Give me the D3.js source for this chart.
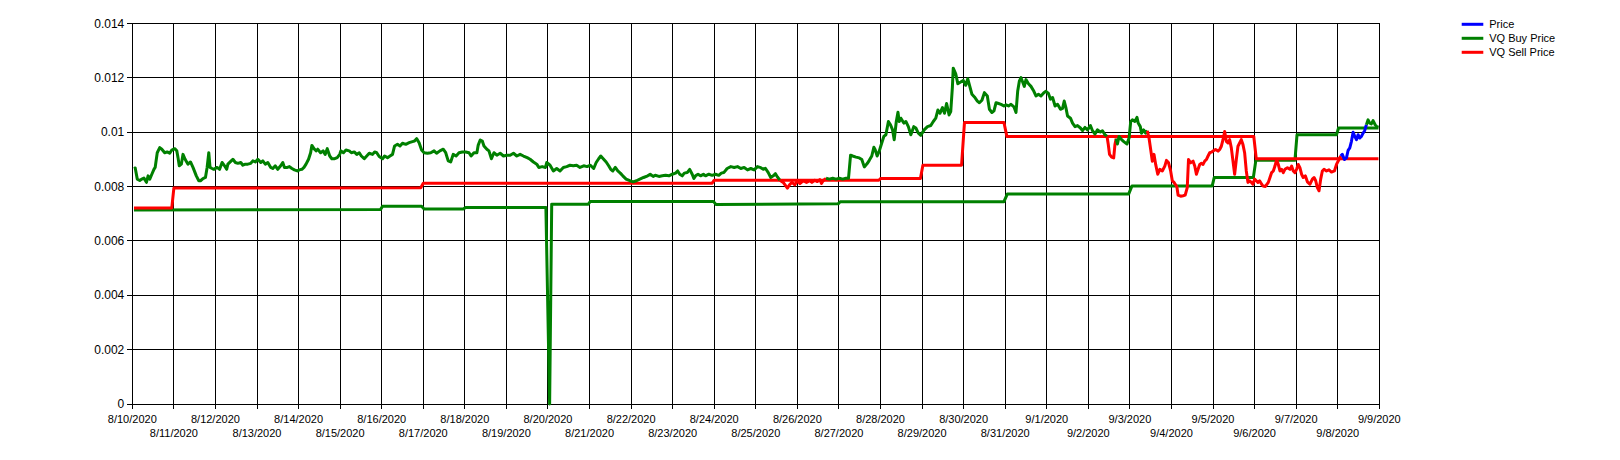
<!DOCTYPE html>
<html>
<head>
<meta charset="utf-8">
<script src="https://cdn.jsdelivr.net/npm/d3@7/dist/d3.min.js"></script>
<style>
  html, body { margin: 0; padding: 0; background: #fff; }
  svg { display: block; }
  text { font-family: "Liberation Sans", Arial, sans-serif; fill: #000; }
</style>
</head>
<body>
<svg id="chart" width="1620" height="460"></svg>
<script>
// Price vs. VQ buy/sell levels, 8/10/2020 - 9/9/2020.
// Day offsets are measured from 8/10/2020 00:00 UTC.

const START_DAY = '2020-08-10';
const END_DAY = '2020-09-09';

const yTicks = [0, 0.002, 0.004, 0.006, 0.008, 0.01, 0.012, 0.014];

const seriesNames = ['Price', 'VQ Buy Price', 'VQ Sell Price'];

// [day offset, price]
const price = [
  [0.04,0.00866],[0.07,0.00868],[0.12,0.00827],[0.18,0.00822],[0.23,0.00827],[0.28,0.00831],[0.34,0.00815],[0.38,0.00839],[0.42,0.00827],[0.47,0.00845],
  [0.52,0.00863],[0.55,0.0087],[0.60,0.00924],[0.66,0.00943],[0.71,0.00937],[0.78,0.00924],[0.84,0.00927],[0.90,0.00922],[0.95,0.00934],[1.02,0.00939],
  [1.07,0.00931],[1.10,0.00906],[1.13,0.00876],[1.18,0.00882],[1.22,0.00918],[1.27,0.009],[1.34,0.00882],[1.40,0.0089],[1.46,0.0087],[1.54,0.00839],
  [1.60,0.00821],[1.64,0.00821],[1.70,0.00829],[1.76,0.00833],[1.80,0.0087],[1.84,0.00924],[1.87,0.0087],[1.92,0.00866],[1.96,0.00863],[2.04,0.0087],
  [2.10,0.00863],[2.16,0.00888],[2.22,0.00876],[2.27,0.00863],[2.30,0.00882],[2.38,0.00894],[2.42,0.009],[2.48,0.00888],[2.54,0.00885],[2.61,0.00888],
  [2.66,0.00878],[2.72,0.00882],[2.78,0.00882],[2.85,0.00885],[2.90,0.00894],[2.96,0.0089],[3.02,0.009],[3.09,0.00888],[3.14,0.00894],[3.20,0.00882],
  [3.26,0.00888],[3.33,0.0087],[3.38,0.00866],[3.44,0.00876],[3.50,0.00863],[3.57,0.00876],[3.62,0.00888],[3.66,0.0087],[3.73,0.0087],[3.78,0.00873],
  [3.84,0.00866],[3.90,0.00861],[3.97,0.00857],[4.02,0.00861],[4.08,0.00863],[4.13,0.0087],[4.18,0.00882],[4.24,0.009],[4.29,0.00924],[4.32,0.00951],
  [4.37,0.00939],[4.42,0.00931],[4.46,0.00937],[4.53,0.00924],[4.59,0.00931],[4.64,0.00918],[4.69,0.00939],[4.75,0.00912],[4.80,0.00902],[4.87,0.00902],
  [4.93,0.00906],[4.99,0.00918],
  [5.02,0.00931],[5.08,0.00924],[5.14,0.00934],[5.22,0.00931],[5.27,0.00924],[5.34,0.00927],[5.40,0.00918],[5.46,0.00924],[5.51,0.00912],[5.58,0.00902],
  [5.64,0.00912],[5.70,0.00922],[5.78,0.00918],[5.83,0.00927],[5.88,0.00924],[5.94,0.0091],[6.02,0.00902],[6.07,0.00912],[6.14,0.00906],[6.20,0.00912],
  [6.26,0.00918],[6.31,0.00949],[6.38,0.00955],[6.44,0.00949],[6.50,0.00959],[6.58,0.00955],[6.66,0.00961],[6.74,0.00965],[6.79,0.00967],[6.84,0.00976],
  [6.90,0.00961],[6.96,0.00934],[7.02,0.00924],[7.10,0.00922],[7.18,0.00924],[7.26,0.00931],[7.32,0.00922],[7.40,0.00931],[7.48,0.00937],[7.54,0.00924],
  [7.60,0.00894],[7.66,0.0089],[7.72,0.00918],[7.79,0.00912],[7.86,0.00924],[7.94,0.00927],[8.02,0.00927],[8.10,0.00924],[8.15,0.00912],[8.22,0.00924],
  [8.29,0.00924],[8.32,0.00951],[8.37,0.00971],[8.42,0.00967],[8.46,0.00949],[8.53,0.00937],[8.58,0.00931],[8.64,0.00902],[8.70,0.00924],[8.77,0.00915],
  [8.85,0.00922],[8.93,0.00912],[9.01,0.00915],[9.09,0.00915],[9.17,0.00922],[9.25,0.00912],[9.33,0.00918],[9.41,0.00912],[9.50,0.00906],[9.57,0.009],
  [9.65,0.0089],[9.73,0.00882],[9.78,0.0087],[9.86,0.00873],[9.94,0.0087],
  [9.97,0.00888],[10.05,0.00878],[10.13,0.00857],[10.21,0.00866],[10.29,0.00857],[10.37,0.0087],[10.45,0.00873],[10.53,0.00878],[10.61,0.00876],[10.69,0.00878],
  [10.77,0.0087],[10.86,0.00876],[10.94,0.00873],[11.02,0.00878],[11.10,0.00866],[11.16,0.00888],[11.22,0.00902],[11.27,0.00912],[11.34,0.009],[11.40,0.0089],
  [11.46,0.00876],[11.51,0.00863],[11.56,0.00857],[11.62,0.0087],[11.68,0.00857],[11.74,0.00849],[11.80,0.00839],[11.88,0.00827],[11.97,0.00821],[12.05,0.00817],
  [12.13,0.00821],[12.21,0.00827],[12.30,0.00833],[12.40,0.00839],[12.46,0.00845],[12.53,0.00837],[12.58,0.00841],[12.67,0.00837],[12.75,0.00839],[12.83,0.00841],
  [12.91,0.00839],[12.99,0.00845],[13.07,0.00849],[13.12,0.00857],[13.17,0.00845],[13.23,0.00839],[13.28,0.00849],[13.35,0.00851],[13.41,0.00863],[13.47,0.00845],
  [13.51,0.00829],[13.55,0.00839],[13.61,0.00845],[13.67,0.00839],[13.74,0.00845],[13.79,0.00839],[13.87,0.00845],[13.95,0.00841],[14.03,0.00845],[14.11,0.00841],
  [14.17,0.00849],[14.23,0.00851],[14.31,0.00866],[14.40,0.00873],[14.48,0.0087],[14.56,0.00873],[14.64,0.00866],[14.72,0.0087],[14.80,0.00861],[14.88,0.00866],
  [14.96,0.00861],[15.04,0.00873],
  [15.12,0.00869],[15.18,0.00863],[15.23,0.00867],[15.30,0.00851],[15.36,0.00833],[15.42,0.00839],[15.47,0.00847],[15.52,0.00835],[15.58,0.00823],[15.66,0.00815],
  [15.76,0.00794],[15.82,0.00808],[15.87,0.00815],[15.94,0.00806],[16.00,0.00821],[16.06,0.00811],[16.14,0.00821],[16.22,0.00815],[16.30,0.00821],[16.35,0.00815],
  [16.42,0.00823],[16.48,0.00818],[16.54,0.00825],[16.58,0.00811],[16.62,0.00821],[16.69,0.0083],[16.77,0.00827],[16.85,0.0083],[16.93,0.00827],[17.01,0.0083],
  [17.09,0.00827],[17.17,0.0083],[17.23,0.0083],[17.28,0.00915],[17.33,0.00912],[17.41,0.00908],[17.49,0.00905],[17.55,0.00899],[17.61,0.00872],[17.68,0.00884],
  [17.73,0.00896],[17.79,0.00912],[17.84,0.00944],[17.87,0.00936],[17.92,0.00912],[17.97,0.0093],[18.03,0.0096],[18.08,0.00984],[18.13,0.0099],[18.19,0.01039],
  [18.24,0.01027],[18.29,0.01008],[18.33,0.00972],[18.38,0.01039],[18.42,0.01073],[18.45,0.01039],[18.49,0.01051],[18.56,0.01033],[18.61,0.01039],[18.67,0.0102],
  [18.73,0.0099],[18.80,0.0102],[18.85,0.01015],[18.91,0.00996],[18.97,0.00988],[19.05,0.01008],[19.13,0.0102],[19.21,0.01024],[19.27,0.01039],[19.33,0.01051],
  [19.38,0.01081],[19.43,0.01069],[19.49,0.0109],[19.54,0.01069],[19.59,0.01105],[19.65,0.01063],[19.69,0.01075],[19.73,0.01166],[19.75,0.01235],[19.81,0.01214],
  [19.86,0.01178],[19.93,0.01184],[19.99,0.0119],[20.05,0.01172],[20.10,0.01196],
  [20.20,0.01139],[20.26,0.01129],[20.33,0.01114],[20.38,0.01108],[20.44,0.01117],[20.50,0.01145],[20.57,0.01133],[20.62,0.01084],[20.68,0.01072],[20.73,0.01078],
  [20.78,0.01108],[20.84,0.01105],[20.90,0.01102],[20.97,0.01096],[21.02,0.011],[21.08,0.01096],[21.14,0.01102],[21.21,0.01093],[21.26,0.01072],[21.30,0.0115],
  [21.34,0.01187],[21.38,0.012],[21.42,0.01184],[21.46,0.01168],[21.50,0.01193],[21.56,0.01178],[21.62,0.01168],[21.69,0.0115],[21.74,0.01133],[21.80,0.01139],
  [21.86,0.01133],[21.93,0.01145],[21.98,0.0115],[22.04,0.01142],[22.09,0.01121],[22.14,0.01127],[22.20,0.01096],[22.26,0.01102],[22.33,0.01084],[22.38,0.01087],
  [22.42,0.01114],[22.46,0.0109],[22.50,0.01059],[22.57,0.01051],[22.62,0.01033],[22.68,0.0102],[22.74,0.01024],[22.81,0.01015],[22.86,0.01005],[22.92,0.01017],
  [22.98,0.01008],[23.05,0.01024],[23.10,0.01005],[23.16,0.00993],[23.22,0.01008],[23.29,0.01],[23.34,0.01005],[23.40,0.0099],[23.45,0.00984],[23.48,0.00954],
  [23.51,0.00918],[23.56,0.00908],[23.61,0.00905],[23.64,0.00954],[23.67,0.00976],[23.70,0.00956],[23.74,0.00984],[23.80,0.00972],[23.86,0.00964],[23.93,0.00956],
  [23.98,0.00978],[24.02,0.01039],[24.06,0.01045],[24.12,0.01039],[24.17,0.01054],[24.20,0.01033],[24.25,0.0102],[24.28,0.00996],[24.33,0.01008],[24.38,0.00996],
  [24.42,0.01005],[24.46,0.00978],[24.50,0.00936],[24.54,0.00893],[24.58,0.00918],[24.62,0.00881],[24.67,0.00845],[24.72,0.00863],[24.78,0.00857],[24.84,0.00875],
  [24.88,0.00896],[24.93,0.00887],[24.98,0.00857],[25.02,0.00821],[25.06,0.00815],[25.13,0.00799],
  [25.16,0.00768],[25.22,0.00764],[25.28,0.00766],[25.33,0.00768],[25.38,0.00796],[25.41,0.00899],[25.46,0.00887],[25.52,0.00893],[25.56,0.00875],[25.60,0.00845],
  [25.64,0.00863],[25.68,0.00881],[25.72,0.00885],[25.76,0.00881],[25.80,0.00893],[25.84,0.00899],[25.88,0.00912],[25.92,0.00924],[25.96,0.00926],[26.00,0.0093],
  [26.06,0.00936],[26.12,0.0093],[26.16,0.00936],[26.20,0.00948],[26.24,0.00972],[26.28,0.01002],[26.32,0.00966],[26.36,0.0096],[26.40,0.00972],[26.44,0.00942],
  [26.48,0.00893],[26.52,0.00845],[26.56,0.00899],[26.60,0.00948],[26.64,0.0096],[26.68,0.00972],[26.72,0.00954],[26.76,0.00924],[26.80,0.00857],[26.84,0.00815],
  [26.88,0.00821],[26.92,0.00815],[26.96,0.00808],[27.00,0.00827],[27.04,0.00821],[27.08,0.00815],[27.12,0.00821],[27.17,0.00808],[27.20,0.00802],[27.26,0.008],
  [27.33,0.00815],[27.37,0.00833],[27.41,0.00851],[27.45,0.00857],[27.49,0.00875],[27.53,0.00899],[27.57,0.00881],[27.61,0.00857],[27.65,0.00863],[27.69,0.00851],
  [27.73,0.00863],[27.79,0.00869],[27.85,0.00863],[27.89,0.00875],[27.93,0.00857],[27.97,0.00851],[28.01,0.00863],[28.05,0.00881],[28.09,0.00869],[28.13,0.00845],
  [28.17,0.00833],[28.22,0.00839],[28.27,0.00817],[28.33,0.00808],[28.39,0.00827],[28.43,0.00833],[28.47,0.00821],[28.51,0.00796],[28.55,0.00784],[28.59,0.00827],
  [28.63,0.00857],[28.67,0.00863],[28.73,0.00857],[28.79,0.00861],[28.85,0.00853],[28.92,0.00857],[28.97,0.00881],[29.03,0.00899],[29.07,0.00912],[29.11,0.00918],
  [29.16,0.00899],[29.21,0.00905],[29.25,0.00933],[29.29,0.00942],[29.33,0.00966],[29.37,0.00999],[29.41,0.00984],[29.45,0.00972],[29.49,0.0099],[29.53,0.00978],
  [29.57,0.00984],[29.61,0.00996],[29.65,0.01006],[29.69,0.01027],[29.73,0.01045],[29.77,0.01033],[29.81,0.0103],[29.85,0.01042],[29.90,0.01027],[29.94,0.0102],
  [29.98,0.01018]
];

// signal state of the price trace from a given day on
const priceState = [
  [0, 'buy'], [15.53, 'sell'], [16.64, 'buy'], [23.42, 'sell'],
  [23.66, 'buy'], [24.40, 'sell'], [29.07, 'hold'], [29.66, 'buy']
];

// [day offset, level]
const buyPrice = [
  [0.04,0.00713],[5.97,0.00715],[6.02,0.00727],[6.96,0.00727],[7.02,0.00717],[7.96,0.00717],[8.02,0.00723],[9.95,0.00723],
  [10.04,0],[10.09,0.00735],[10.97,0.00735],[11.02,0.00745],[13.98,0.00745],[14.04,0.00734],[16.98,0.00736],[17.03,0.00744],
  [20.97,0.00744],[21.05,0.00772],[23.97,0.00772],[24.05,0.00802],[25.98,0.00802],[26.03,0.00833],[26.97,0.00833],[27.03,0.00896],
  [27.97,0.00896],[28.02,0.0099],[28.97,0.0099],[29.02,0.01015],[29.98,0.01015]
];

const sellPrice = [
  [0.04,0.00721],[0.95,0.00721],[1.0,0.00794],[6.94,0.00795],[7.0,0.00812],[13.95,0.00812],[14.0,0.00823],[17.96,0.00823],
  [18.0,0.00829],[18.96,0.00829],[19.02,0.00878],[19.95,0.00878],[20.02,0.01035],[20.97,0.01035],[21.04,0.00984],[26.98,0.00984],
  [27.04,0.00902],[29.98,0.00902]
];

const COLORS = { hold: '#0000ff', buy: '#008000', sell: '#ff0000' };
const LINE_W = 3;

const svg = d3.select('#chart');
const M = { left: 132.3, right: 1379.3, top: 23.3, bottom: 404 };

const t0 = d3.utcParse('%Y-%m-%d')(START_DAY);
const t1 = d3.utcParse('%Y-%m-%d')(END_DAY);
const toDate = d => new Date(t0.getTime() + d * 864e5);

const x = d3.scaleUtc().domain([t0, t1]).range([M.left, M.right]);
const y = d3.scaleLinear().domain([0, 0.014]).range([M.bottom, M.top]);

const days = d3.utcDay.range(t0, d3.utcDay.offset(t1, 1));
const fmtDay = d3.utcFormat('%-m/%-d/%Y');

// grid
const grid = svg.append('g').attr('shape-rendering', 'crispEdges')
  .attr('stroke', '#000').attr('stroke-width', 1);
grid.selectAll('line.v').data(days).join('line').attr('class', 'v')
  .attr('x1', d => x(d)).attr('x2', d => x(d))
  .attr('y1', M.top).attr('y2', M.bottom + 5);
grid.selectAll('line.h').data(yTicks).join('line').attr('class', 'h')
  .attr('x1', M.left - 5).attr('x2', M.right)
  .attr('y1', d => y(d)).attr('y2', d => y(d));

// axes labels
svg.append('g').selectAll('text').data(yTicks).join('text')
  .attr('x', M.left - 8).attr('y', d => y(d)).attr('dy', '0.35em')
  .attr('text-anchor', 'end').attr('font-size', 12)
  .text(d => String(+d.toFixed(3)));

svg.append('g').selectAll('text').data(days).join('text')
  .attr('x', d => x(d)).attr('y', (d, i) => i % 2 ? 437 : 423)
  .attr('text-anchor', 'middle').attr('font-size', 11)
  .text(d => fmtDay(d));

const line = d3.line().x(p => x(toDate(p[0]))).y(p => y(p[1]));

const stateAt = d => {
  let s = priceState[0][1];
  for (const [day, st] of priceState) if (d >= day) s = st;
  return s;
};

// split the price trace into runs of equal state
const runs = [];
let cur = null;
for (let i = 1; i < price.length; i++) {
  const s = stateAt(price[i - 1][0]);
  if (!cur || cur.state !== s) { cur = { state: s, pts: [price[i - 1]] }; runs.push(cur); }
  cur.pts.push(price[i]);
}

const lines = svg.append('g').attr('fill', 'none')
  .attr('stroke-width', LINE_W).attr('stroke-linejoin', 'round');

lines.append('path').attr('d', line(buyPrice)).attr('stroke', COLORS.buy);
lines.append('path').attr('d', line(sellPrice)).attr('stroke', COLORS.sell);
lines.selectAll('path.price').data(runs).join('path').attr('class', 'price')
  .attr('d', r => line(r.pts)).attr('stroke', r => COLORS[r.state]);

// legend
const legendColors = [COLORS.hold, COLORS.buy, COLORS.sell];
const lg = svg.append('g').attr('transform', 'translate(1461.7, 24.3)');
const row = lg.selectAll('g').data(seriesNames).join('g')
  .attr('transform', (d, i) => `translate(0, ${i * 14})`);
row.append('line').attr('x1', 0).attr('x2', 21.6).attr('y1', 0).attr('y2', 0)
  .attr('stroke', (d, i) => legendColors[i]).attr('stroke-width', LINE_W);
row.append('text').attr('x', 27.5).attr('y', 0).attr('dy', '0.35em')
  .attr('font-size', 11).text(d => d);
</script>
</body>
</html>
